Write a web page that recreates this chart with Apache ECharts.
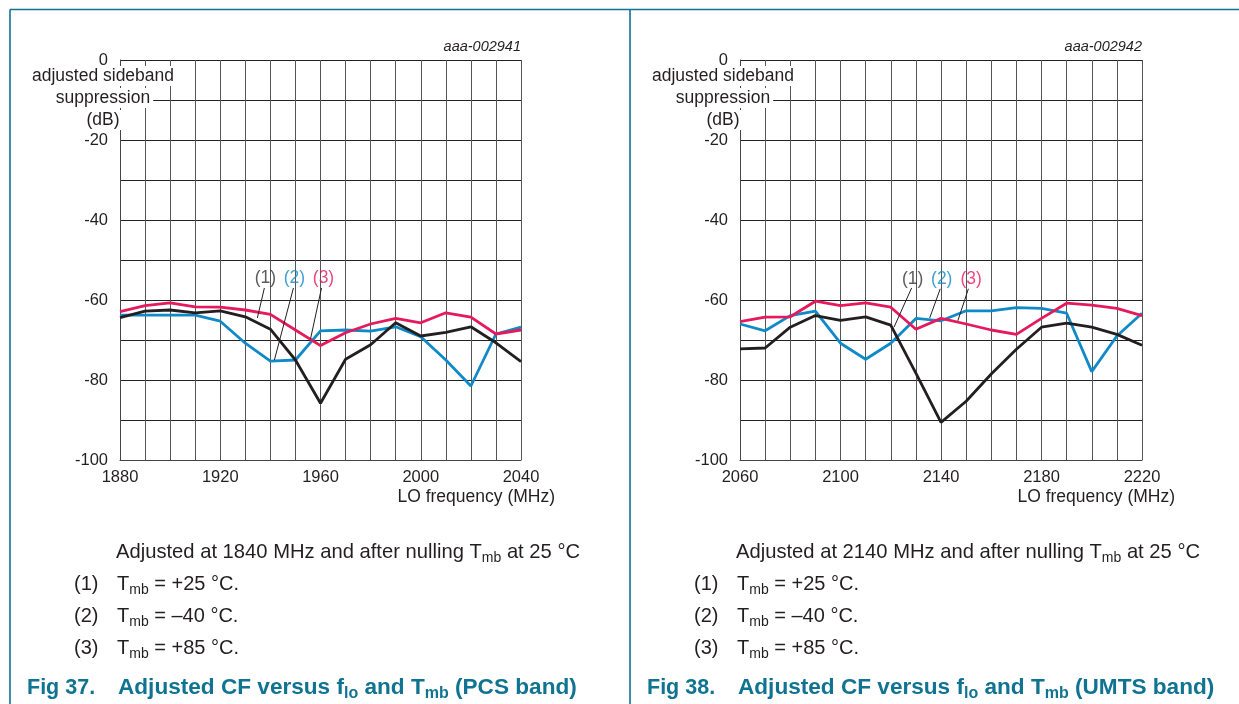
<!DOCTYPE html>
<html><head><meta charset="utf-8">
<script src="https://cdn.jsdelivr.net/npm/echarts@6/dist/echarts.min.js"></script>
<style>html,body{margin:0;padding:0;background:#fff}#c{width:1239px;height:704px}</style>
</head><body><div id="c"></div>
<script>
// ---- data ----
const freqPCS  = [1880,1890,1900,1910,1920,1930,1940,1950,1960,1970,1980,1990,2000,2010,2020,2030,2040];
const pcsT25   = [-64.4,-62.8,-62.5,-63.2,-62.7,-64.2,-67.3,-75.0,-85.8,-74.8,-71.2,-65.7,-69.0,-68.1,-66.7,-70.7,-75.4];
const pcsTm40  = [-63.8,-63.8,-63.8,-63.8,-65.3,-70.8,-75.3,-75.0,-67.7,-67.5,-67.8,-66.7,-69.2,-75.0,-81.5,-68.5,-66.8];
const pcsT85   = [-62.9,-61.4,-60.7,-61.7,-61.8,-62.5,-63.6,-67.5,-71.4,-68.2,-66.0,-64.6,-65.7,-63.2,-64.3,-68.5,-67.5];

const freqUMTS = [2060,2070,2080,2090,2100,2110,2120,2130,2140,2150,2160,2170,2180,2190,2200,2210,2220];
const umtsT25  = [-72.2,-72.0,-66.8,-63.9,-65.1,-64.2,-66.3,-78.3,-90.6,-85.3,-78.5,-72.3,-66.8,-65.8,-66.8,-68.6,-71.3];
const umtsTm40 = [-66.0,-67.7,-63.9,-62.8,-70.8,-74.8,-70.8,-64.6,-65.2,-62.7,-62.7,-61.9,-62.1,-63.3,-77.9,-69.0,-63.3];
const umtsT85  = [-65.4,-64.3,-64.2,-60.3,-61.4,-60.7,-61.8,-67.3,-64.6,-66.0,-67.5,-68.6,-64.6,-60.8,-61.3,-62.1,-63.9];

const yTickLabels   = [0,-20,-40,-60,-80,-100];
const xTickPCS      = [1880,1920,1960,2000,2040];
const xTickUMTS     = [2060,2100,2140,2180,2220];
const curveLabels   = ['(1)','(2)','(3)'];
const figIds        = ['aaa-002941','aaa-002942'];
const figCaptions   = [['Fig 37.','Adjusted CF versus f{s|lo} and T{s|mb} (PCS band)'],
                       ['Fig 38.','Adjusted CF versus f{s|lo} and T{s|mb} (UMTS band)']];
const adjustNotes   = ['Adjusted at 1840 MHz and after nulling T{s|mb} at 25 °C',
                       'Adjusted at 2140 MHz and after nulling T{s|mb} at 25 °C'];
const tempNotes     = ['T{s|mb} = +25 °C.','T{s|mb} = \u201340 °C.','T{s|mb} = +85 °C.'];

// ---- styles ----
const FONT = '"Liberation Sans", Arial, Helvetica, sans-serif';
const TXT = '#231f20';
const TEAL = '#0f7391';
const COLS = ['#231f20', '#1089c9', '#e5195c'];
const TAGCOLS = ['#333333', '#1089c9', '#e5195c'];

const chart = echarts.init(document.getElementById('c'), null, {renderer: 'canvas'});

function pairs(xs, ys) { return xs.map((x, i) => [x, ys[i]]); }

function xAxisOf(gi, min, max, ticks) {
  return {
    type: 'value', gridIndex: gi, min: min, max: max, interval: 10,
    axisLine: {show: true, onZero: false, lineStyle: {color: '#444', width: 1}},
    axisTick: {show: false},
    axisLabel: {formatter: v => ticks.includes(v) ? String(v) : '', fontSize: 16.5, color: TXT, fontFamily: FONT, margin: 9},
    splitLine: {show: true, lineStyle: {color: '#555', width: 1}}
  };
}
function yAxisOf(gi) {
  return {
    type: 'value', gridIndex: gi, min: -100, max: 0, interval: 10,
    axisLine: {show: true, onZero: false, lineStyle: {color: '#444', width: 1}},
    axisTick: {show: false},
    axisLabel: {formatter: v => yTickLabels.includes(v) ? String(v) : '', fontSize: 16.5, color: TXT, fontFamily: FONT, margin: 12},
    splitLine: {show: true, lineStyle: {color: '#222', width: 1}}
  };
}
function curve(gi, xs, ys, col, z) {
  return {type: 'line', xAxisIndex: gi, yAxisIndex: gi, data: pairs(xs, ys), symbol: 'none', showSymbol: false,
          lineStyle: {color: col, width: 2.8}, z: z, silent: true, animation: false};
}
function leaders(gi, segs) {
  return {type: 'lines', coordinateSystem: 'cartesian2d', xAxisIndex: gi, yAxisIndex: gi,
          data: segs.map(s => ({coords: s})), lineStyle: {color: TXT, width: 1, opacity: 1}, z: 6, silent: true, animation: false};
}
function tags(gi, pts) {
  return {type: 'scatter', xAxisIndex: gi, yAxisIndex: gi, symbolSize: 0, z: 7, silent: true, animation: false,
          data: pts.map((p, i) => ({value: p, label: {show: true, position: 'inside', formatter: curveLabels[i],
                 color: TAGCOLS[i], fontSize: 17.5, fontFamily: FONT}}))};
}

// ---- graphic texts ----
const g = [];
g.push({type: 'line', shape: {x1: 10, y1: 9.5, x2: 1239, y2: 9.5}, style: {stroke: TEAL, lineWidth: 1.6}, z: 100});
g.push({type: 'line', shape: {x1: 10, y1: 9.5, x2: 10, y2: 704}, style: {stroke: TEAL, lineWidth: 1.6}, z: 100});
g.push({type: 'line', shape: {x1: 630, y1: 9.5, x2: 630, y2: 704}, style: {stroke: TEAL, lineWidth: 1.6}, z: 100});

const subRich = (fs, bold) => ({s: {fontSize: fs, lineHeight: fs, verticalAlign: 'bottom', fontFamily: FONT, fontWeight: bold ? 'bold' : 'normal'}});

[0, 1].forEach(p => {
  const dx = p * 620;
  const plotRight = p === 0 ? 521 : 1142;
  g.push({type: 'text', z: 100, style: {text: figIds[p], x: plotRight, y: 47, align: 'right', verticalAlign: 'middle',
          fontSize: 14.5, fontStyle: 'italic', fontFamily: FONT, fill: TXT}});
  const names = [['adjusted sideband', 76], ['suppression', 98], ['(dB)', 120]];
  names.forEach(n => g.push({type: 'text', z: 100, style: {text: n[0], x: 103 + dx, y: n[1], align: 'center', verticalAlign: 'middle',
          fontSize: 17.5, fontFamily: FONT, fill: TXT, backgroundColor: '#fff', padding: [1, 3, 1, 3]}}));
  g.push({type: 'text', z: 100, style: {text: 'LO frequency (MHz)', x: 555 + dx, y: 497, align: 'right', verticalAlign: 'middle',
          fontSize: 17.5, fontFamily: FONT, fill: TXT}});
  g.push({type: 'text', z: 100, style: {text: adjustNotes[p], x: 116 + dx, y: 552, align: 'left', verticalAlign: 'middle',
          fontSize: 20.2, lineHeight: 26, fontFamily: FONT, fill: TXT, rich: subRich(14, false)}});
  tempNotes.forEach((t, i) => {
    const y = 584 + i * 32;
    g.push({type: 'text', z: 100, style: {text: curveLabels[i], x: 74 + dx, y: y, align: 'left', verticalAlign: 'middle',
            fontSize: 20, lineHeight: 26, fontFamily: FONT, fill: TXT}});
    g.push({type: 'text', z: 100, style: {text: t, x: 117 + dx, y: y, align: 'left', verticalAlign: 'middle',
            fontSize: 20, lineHeight: 26, fontFamily: FONT, fill: TXT, rich: subRich(14, false)}});
  });
  g.push({type: 'text', z: 100, style: {text: figCaptions[p][0], x: 27 + dx, y: 688, align: 'left', verticalAlign: 'middle',
          fontSize: 21.5, lineHeight: 28, fontWeight: 'bold', fontFamily: FONT, fill: TEAL}});
  g.push({type: 'text', z: 100, style: {text: figCaptions[p][1], x: 118 + dx, y: 688, align: 'left', verticalAlign: 'middle',
          fontSize: 22.6, lineHeight: 28, fontWeight: 'bold', fontFamily: FONT, fill: TEAL, rich: subRich(16, true)}});
});

const option = {
  backgroundColor: '#fff',
  animation: false,
  textStyle: {fontFamily: FONT},
  grid: [
    {left: 120, top: 60, width: 401, height: 400, outerBoundsMode: 'none', containLabel: false},
    {left: 740, top: 60, width: 402, height: 400, outerBoundsMode: 'none', containLabel: false}
  ],
  xAxis: [xAxisOf(0, 1880, 2040, xTickPCS), xAxisOf(1, 2060, 2220, xTickUMTS)],
  yAxis: [yAxisOf(0), yAxisOf(1)],
  series: [
    curve(0, freqPCS, pcsTm40, COLS[1], 3),
    curve(0, freqPCS, pcsT25, COLS[0], 4),
    curve(0, freqPCS, pcsT85, COLS[2], 5),
    curve(1, freqUMTS, umtsTm40, COLS[1], 3),
    curve(1, freqUMTS, umtsT25, COLS[0], 4),
    curve(1, freqUMTS, umtsT85, COLS[2], 5),
    leaders(0, [[[1937.6, -57], [1934.8, -64.5]], [[1949.2, -57], [1941.6, -75]], [[1960.4, -57], [1956, -69.8]]]),
    leaders(1, [[[2128.3, -57], [2121.3, -66.8]], [[2139.7, -57.2], [2135.5, -64.5]], [[2150.9, -57.2], [2146.7, -65.2]]]),
    tags(0, [[1938, -54.5], [1949.6, -54.5], [1961.2, -54.5]]),
    tags(1, [[2128.7, -54.8], [2140.3, -54.8], [2152, -54.8]])
  ],
  graphic: g
};
chart.setOption(option);
</script>
</body></html>
